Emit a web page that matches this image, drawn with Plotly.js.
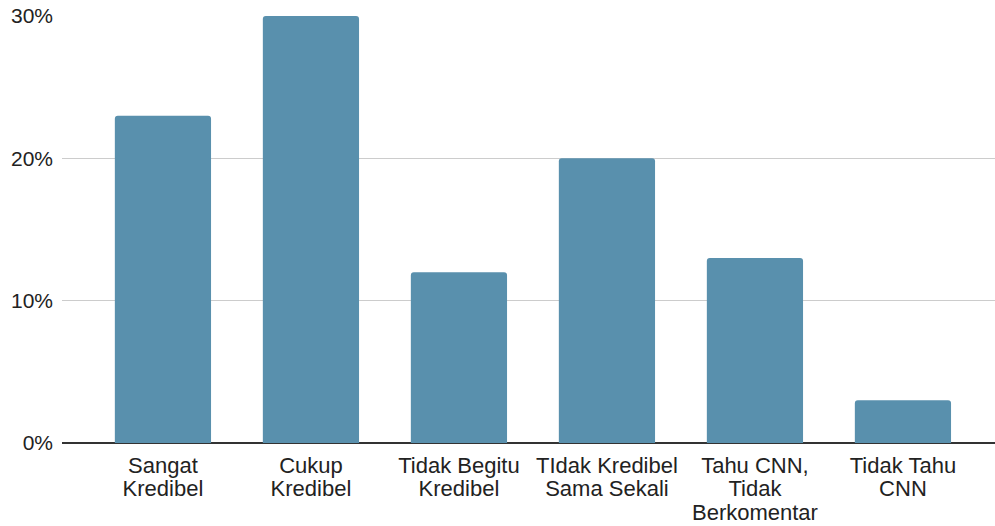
<!DOCTYPE html>
<html>
<head>
<meta charset="utf-8">
<script src="https://cdn.plot.ly/plotly-3.0.1.min.js"></script>
<style>html,body{margin:0;padding:0;background:#fff;}#chart{width:995px;height:526px;}</style>
</head>
<body>
<div id="chart"></div>
<script>
const categories = ["Sangat<br>Kredibel", "Cukup<br>Kredibel", "Tidak Begitu<br>Kredibel", "TIdak Kredibel<br>Sama Sekali", "Tahu CNN,<br>Tidak<br>Berkomentar", "Tidak Tahu<br>CNN"];
const values = [0.23, 0.30, 0.12, 0.20, 0.13, 0.03];
const yTickVals = [0, 0.1, 0.2, 0.3];
const yTickText = ["0%", "10%", "20%", "30%"];

// Larger glyphs with tight (Sheets-like) line spacing: base size sets spacing, span sets glyph size
const xTickText = categories.map(c => c.split("<br>").map(l => '<span style="font-size:22px">' + l + '</span>').join("<br>"));

const trace = {
  type: "bar",
  x: categories.map((c, i) => i),
  y: values,
  marker: {color: "#5990ad", cornerradius: 3},
  hoverinfo: "skip"
};

const layout = {
  width: 995, height: 526,
  margin: {l: 62, r: 0, t: 16, b: 83},
  paper_bgcolor: "#fff", plot_bgcolor: "#fff",
  bargap: 0.35,
  showlegend: false,
  font: {family: "Liberation Sans, Arial, sans-serif", size: 18, color: "#222"},
  xaxis: {
    range: [-0.682, 5.622],
    tickmode: "array",
    tickvals: categories.map((c, i) => i),
    ticktext: xTickText,
    showgrid: false, zeroline: false,
    showline: false, ticks: "",
    ticklabelstandoff: 11,
    tickfont: {size: 18, color: "#222"},
    fixedrange: true
  },
  yaxis: {
    range: [0, 0.3],
    tickmode: "array",
    tickvals: yTickVals,
    ticktext: yTickText,
    showgrid: true, gridcolor: "#cccccc", gridwidth: 1.3,
    zeroline: true, zerolinecolor: "#333", zerolinewidth: 1.5,
    showline: false, ticks: "",
    ticklabelstandoff: 8,
    tickfont: {size: 21, color: "#222"},
    fixedrange: true
  }
};

Plotly.newPlot("chart", [trace], layout, {displayModeBar: false, staticPlot: true});
</script>
</body>
</html>
